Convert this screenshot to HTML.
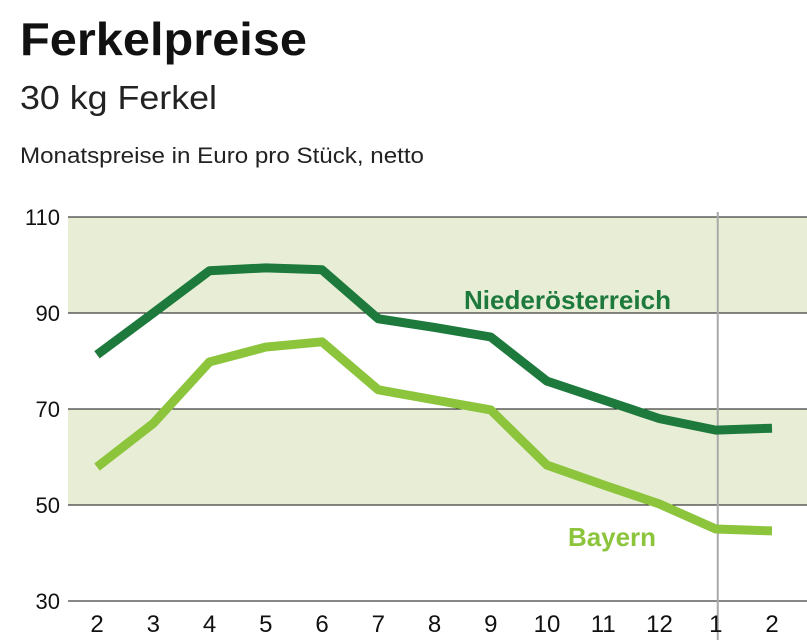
<!DOCTYPE html>
<html><head><meta charset="utf-8"><style>
body{margin:0;background:#fff;width:807px;height:640px;overflow:hidden;font-family:"Liberation Sans",sans-serif;}
svg{position:absolute;left:0;top:0}
</style></head><body>
<svg width="807" height="640">
<text x="20" y="55" font-size="46" font-weight="bold" fill="#111" textLength="287" lengthAdjust="spacingAndGlyphs">Ferkelpreise</text>
<text x="20" y="109" font-size="33" fill="#222" textLength="197" lengthAdjust="spacingAndGlyphs">30 kg Ferkel</text>
<text x="20" y="163" font-size="22" fill="#222" textLength="404" lengthAdjust="spacingAndGlyphs">Monatspreise in Euro pro Stück, netto</text>
<g id="bands"></g><g id="grid"></g><g id="lines"></g><g id="labels"></g>
</svg>
<script>
const months=["2","3","4","5","6","7","8","9","10","11","12","1","2"];
const noe=[81.3,90,98.8,99.4,99,88.8,87,85,75.8,71.9,68,65.6,66];
const bay=[57.9,67,79.8,82.9,84,74,71.9,69.8,58.3,54.2,50.2,45,44.6];
const yTicks=[30,50,70,90,110];
const bandsData=[[90,110],[50,70]];
const ns="http://www.w3.org/2000/svg";
const y=v=>601-(v-30)*4.8;
const x=i=>97+i*56.25;
function mk(tag,attrs,parent){const e=document.createElementNS(ns,tag);for(const k in attrs)e.setAttribute(k,attrs[k]);document.getElementById(parent).appendChild(e);return e;}
bandsData.forEach(b=>{const r=mk('rect',{x:68,y:y(b[1]),width:739,height:y(b[0])-y(b[1]),fill:'#e8eed6'},'bands');

});
yTicks.forEach(t=>{const l=mk('line',{x1:68,x2:807,y1:y(t),y2:y(t),stroke:'#111','stroke-width':1},'grid');


const tx=mk('text',{x:60,y:y(t)+8,'font-size':22,'text-anchor':'end',fill:'#111'},'labels');tx.textContent=t;

});
const vl=mk('line',{x1:x(11)+2,x2:x(11)+2,y1:212,y2:640,stroke:'#aaa','stroke-width':2},'grid');


months.forEach((m,i)=>{const tx=mk('text',{x:x(i),y:632,'font-size':24,'text-anchor':'middle',fill:'#111'},'labels');tx.textContent=m;

});
function line(vals,color,name){const p=mk('polyline',{points:vals.map((v,i)=>x(i)+','+y(v)).join(' '),fill:'none',stroke:color,'stroke-width':9,'stroke-linejoin':'round'},'lines');

}
line(noe,'#1d7a3c','line-niederoesterreich');
line(bay,'#8cc43c','line-bayern');
const l1=mk('text',{x:464,y:309,'font-size':26,fill:'#1d7a3c','font-weight':'bold',textLength:207,lengthAdjust:'spacingAndGlyphs'},'labels');l1.textContent='Niederösterreich';


const l2=mk('text',{x:568,y:546,'font-size':26,fill:'#8cc43c','font-weight':'bold',textLength:88,lengthAdjust:'spacingAndGlyphs'},'labels');l2.textContent='Bayern';


</script>
</body></html>
